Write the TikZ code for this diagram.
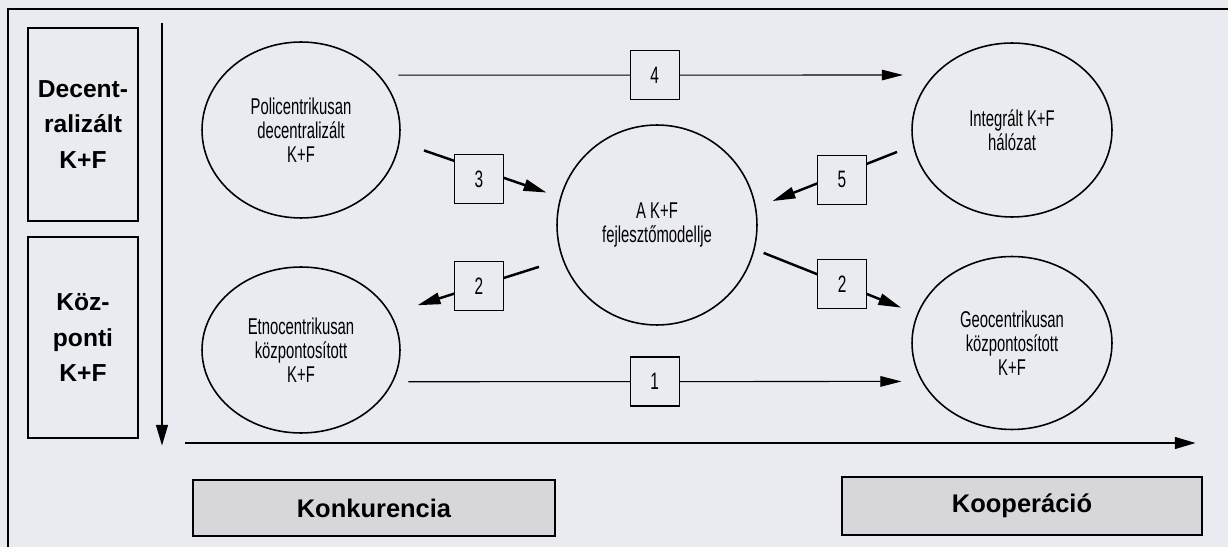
\documentclass[tikz,border=0pt]{standalone}
\usepackage{fontspec}
\setmainfont{Liberation Sans}
\newfontfamily\narrowfont{Liberation Sans}[FakeStretch=0.65]
\usetikzlibrary{positioning,shapes.geometric,arrows.meta}
\definecolor{bgcol}{RGB}{233,235,241}
\definecolor{boxgray}{RGB}{214,214,219}

\begin{document}
\begin{tikzpicture}[
  x=0.02cm, y=-0.02cm,
  ellnode/.style={draw,ellipse,line width=0.9pt,inner sep=0pt,align=center,font=\narrowfont\fontsize{13}{13.7}\selectfont},
  sidebox/.style={draw,line width=0.8pt,minimum width=2.2cm,align=center,font=\bfseries\fontsize{14}{20}\selectfont},
  numbox/.style={draw,fill=bgcol,line width=0.7pt,minimum size=0.98cm,inner sep=0pt,font=\narrowfont\fontsize{13.5}{14}\selectfont},
  labbox/.style={draw,fill=boxgray,line width=0.9pt,font=\bfseries\fontsize{14.5}{17}\selectfont},
  thinarr/.style={line width=0.6pt,-{Triangle[length=12pt,width=6pt]}},
  thickarr/.style={line width=1.4pt,-{Triangle[length=13pt,width=6.5pt]}},
  axisarr/.style={line width=1.7pt,-{Triangle[length=12pt,width=6.5pt]}},
]
\useasboundingbox (0,0) rectangle (1228,547);
\fill[bgcol] (0,0) rectangle (1228,547);
\draw[line width=1.1pt] (1228,9) -- (8,9) -- (8,547);

\node[sidebox,minimum height=3.86cm] (decbox) at (83,124.5) {Decent-\\ralizált\\K+F};
\node[sidebox,minimum height=4.02cm] (kozbox) at (83,337.5) {Köz-\\ponti\\K+F};

\coordinate (vtop) at (162,23);
\coordinate (vbot) at (162,446);
\coordinate (hleft) at (185,443);
\coordinate (hright) at (1196,443);
\draw[axisarr] (vtop) -- (vbot);
\draw[axisarr] (hleft) -- (hright);

\node[ellnode,minimum width=3.96cm,minimum height=3.52cm] (poli) at (301,130) {Policentrikusan\\decentralizált\\K+F};
\node[ellnode,minimum width=3.96cm,minimum height=3.32cm] (etno) at (301,350) {Etnocentrikusan\\központosított\\K+F};
\node[ellnode,circle,minimum size=4cm] (kf) at (657,225) {A K+F\\fejlesztőmodellje};
\node[ellnode,minimum width=4cm,minimum height=3.48cm] (integ) at (1012,130) {Integrált K+F\\hálózat};
\node[ellnode,minimum width=4cm,minimum height=3.46cm] (geo) at (1012,343) {Geocentrikusan\\központosított\\K+F};

\path (poli.35) edge[thinarr,shorten <=0.38cm,shorten >=0.61cm] node[numbox,pos=0.497] {4} (integ.145)
(etno.-19) edge[thinarr,shorten <=0.3cm,shorten >=0.4cm] node[numbox,pos=0.495] {1} (geo.203)
(poli.-7) edge[thickarr,shorten <=0.51cm,shorten >=0.29cm] node[numbox,pos=0.494,yshift=-0.2cm] {3} (kf.164)
(kf.200) edge[thickarr,shorten <=0.49cm,shorten >=0.56cm] node[numbox,pos=0.486] {2} (etno.22)
(integ.189) edge[thickarr,shorten <=0.34cm,shorten >=0.35cm] node[numbox,pos=0.453,yshift=-0.12cm] {5} (kf.10)
(kf.-14) edge[thickarr,shorten <=0.19cm,shorten >=0.34cm] node[numbox,pos=0.538] {2} (geo.163)
;

\node[labbox,minimum width=7.24cm,minimum height=1.12cm] (konk) at (374,508) {Konkurencia};
\node[labbox,minimum width=7.2cm,minimum height=1.16cm] (koop) at (1022,506) {Kooperáció};
\end{tikzpicture}
\end{document}
